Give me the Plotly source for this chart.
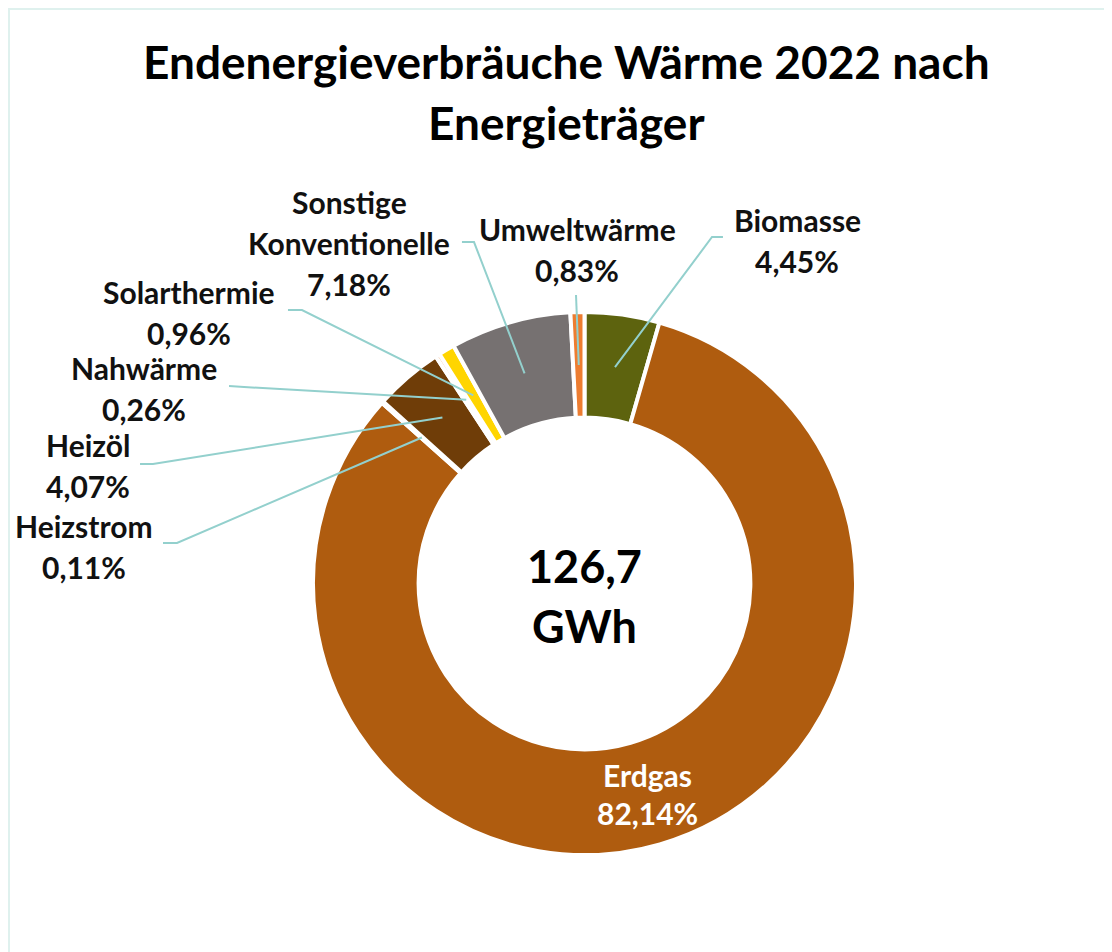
import math
import plotly.graph_objects as go

# Data
labels = ['Biomasse', 'Erdgas', 'Heizstrom', 'Heizöl', 'Nahwärme',
          'Solarthermie', 'Sonstige Konventionelle', 'Umweltwärme']
shares = [4.45, 82.14, 0.11, 4.07, 0.26, 0.96, 7.18, 0.83]
colors = ['#5d630e', '#af5c0f', '#c9822f', '#6f3d08', '#f4b183',
          '#ffd500', '#767171', '#ed7d31']
total_text = ['126,7', 'GWh']
title_lines = ['Endenergieverbräuche Wärme 2022 nach', 'Energieträger']

# page body has an 8px margin, figure sized so the page fills the window
OFF = 8
W, H = 1112 - OFF, 952 - OFF
FONT = 'Lato, Carlito, sans-serif'

# donut geometry in window pixels
cx, cy, R = 584.5, 583.5, 271.5
hole = 0.611


def px(x):
    return (x - OFF) / W


def py(y):
    return 1 - (y - OFF) / H


def fmt(v):
    return ('%.2f' % v).replace('.', ',') + '%'


def slice_point(i, frac=0.805):
    cum = sum(shares[:i]) + shares[i] / 2
    th = 2 * math.pi * cum / sum(shares)
    return cx + frac * R * math.sin(th), cy - frac * R * math.cos(th)


fig = go.Figure(go.Pie(
    labels=labels, values=shares, sort=False, direction='clockwise',
    rotation=0, hole=hole, textinfo='none', hoverinfo='label+percent',
    marker=dict(colors=colors, line=dict(color='white', width=4)),
    domain=dict(x=[px(cx - R), px(cx + R)], y=[py(cy + R), py(cy - R)]),
    showlegend=False,
))

ann = []
# title
for txt, y in zip(title_lines, [62, 123]):
    ann.append(dict(text='<b>%s</b>' % txt, x=px(566), y=py(y),
                    font=dict(size=46, color='#000000', family=FONT)))
# center total
for txt, y in zip(total_text, [566, 626]):
    ann.append(dict(text='<b>%s</b>' % txt, x=px(cx), y=py(y),
                    font=dict(size=45, color='#000000', family=FONT)))

# outside labels: name lines, centre x, first line y, leader (start, elbow)
label_pos = {
    'Sonstige Konventionelle': (['Sonstige', 'Konventionelle'], 349, 202,
                                [(462, 242), (474, 242)]),
    'Umweltwärme': (['Umweltwärme'], 577, 229, [(576, 295)]),
    'Biomasse': (['Biomasse'], 797, 220, [(723, 237), (712, 237)]),
    'Solarthermie': (['Solarthermie'], 189, 292, [(288, 310), (302, 310)]),
    'Nahwärme': (['Nahwärme'], 144, 368, [(229, 386), (244, 387)]),
    'Heizöl': (['Heizöl'], 88, 445, [(140, 464), (153, 464)]),
    'Heizstrom': (['Heizstrom'], 84, 526, [(163, 543), (177, 543)]),
}

shapes = []
for i, name in enumerate(labels):
    if name not in label_pos:
        continue
    lines, x0, y0, leader = label_pos[name]
    lines = lines + [fmt(shares[i])]
    for k, t in enumerate(lines):
        ann.append(dict(text='<b>%s</b>' % t, x=px(x0), y=py(y0 + 41 * k),
                        font=dict(size=30, color='#111111', family=FONT)))
    pts = leader + [slice_point(i)]
    path = 'M ' + ' L '.join('%.4f,%.4f' % (px(a), py(b)) for a, b in pts)
    shapes.append(dict(type='path', path=path, xref='paper', yref='paper',
                       line=dict(color='#93d0cd', width=2)))

# Erdgas label inside slice
ie = labels.index('Erdgas')
for k, t in enumerate(['Erdgas', fmt(shares[ie])]):
    ann.append(dict(text='<b>%s</b>' % t, x=px(647), y=py(775 + 38 * k),
                    font=dict(size=30, color='white', family=FONT)))

for a in ann:
    a.update(xref='paper', yref='paper', showarrow=False,
             xanchor='center', yanchor='middle')

# light chart-area frame (top and left edges visible)
shapes.append(dict(type='rect', xref='paper', yref='paper',
                   x0=px(9), x1=px(1112 + 20), y0=py(952 + 20), y1=py(9),
                   line=dict(color='#dff1ee', width=2)))

fig.update_layout(
    width=W, height=H, margin=dict(l=0, r=0, t=0, b=0),
    paper_bgcolor='white', plot_bgcolor='white',
    annotations=ann, shapes=shapes,
)

fig.write_html('out.html')
